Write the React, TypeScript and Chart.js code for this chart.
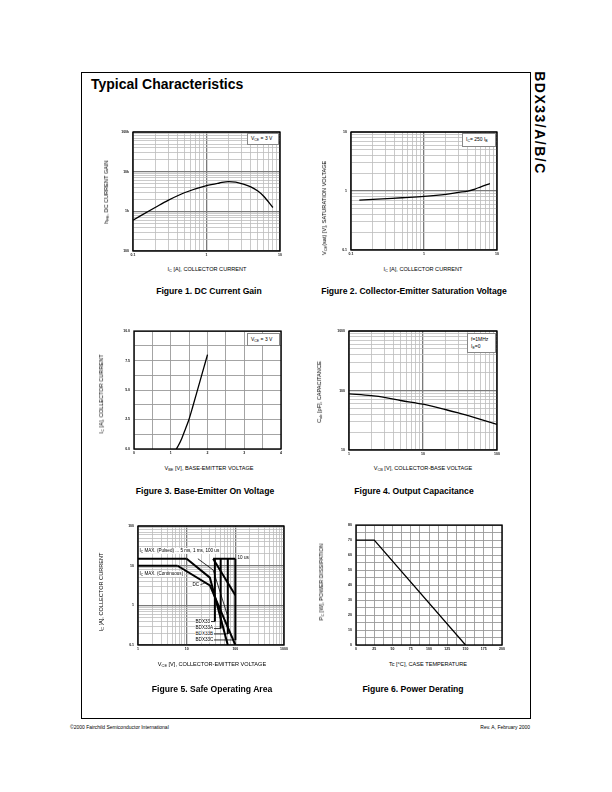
import React, { useEffect, useRef } from 'react';
import { Chart, registerables } from 'chart.js';
Chart.register(...registerables);

const FONT = '"Liberation Sans", Arial, Helvetica, sans-serif';

// ---------- Figure 1: DC current gain ----------
const fig1Ic = [0.1, 0.2, 0.3, 0.5, 1, 1.5, 2, 2.5, 3, 4, 5, 6, 8];
const fig1Hfe = [600, 1250, 1900, 2950, 4470, 5200, 5650, 5500, 5000, 4150, 3250, 2400, 1250];
const fig1XLabelVals = [0.1, 1, 10];
const fig1XLabels = ['0.1', '1', '10'];
const fig1YLabelVals = [100, 1000, 10000, 100000];
const fig1YLabels = ['100', '1k', '10k', '100k'];

// ---------- Figure 2: saturation voltage ----------
const fig2Ic = [0.13, 0.2, 0.5, 1, 2, 3, 4, 5, 6, 8];
const fig2Vce = [0.7, 0.72, 0.77, 0.81, 0.88, 0.95, 1.0, 1.08, 1.18, 1.34];
const fig2XLabelVals = [0.1, 1, 10];
const fig2XLabels = ['0.1', '1', '10'];
const fig2YLabelVals = [0.1, 1, 10];
const fig2YLabels = ['0.1', '1', '10'];

// ---------- Figure 3: base-emitter on voltage ----------
const fig3Vbe = [1.15, 1.2, 1.3, 1.4, 1.5, 1.6, 1.7, 1.8, 1.9, 2.0];
const fig3Ic = [0, 0.25, 0.9, 1.7, 2.55, 3.6, 4.7, 5.8, 6.9, 8.0];
const fig3XLabelVals = [0, 1, 2, 3, 4];
const fig3XLabels = ['0', '1', '2', '3', '4'];
const fig3YLabelVals = [0, 2.5, 5, 7.5, 10];
const fig3YLabels = ['0.0', '2.5', '5.0', '7.5', '10.0'];

// ---------- Figure 4: output capacitance ----------
const fig4Vcb = [1, 2, 3, 5, 10, 20, 30, 50, 100];
const fig4Cob = [88, 82, 77, 68, 59, 48, 42, 35, 27];
const fig4XLabelVals = [1, 10, 100];
const fig4XLabels = ['1', '10', '100'];
const fig4YLabelVals = [10, 100, 1000];
const fig4YLabels = ['10', '100', '1000'];

// ---------- Figure 5: safe operating area ----------
const soaPulsedV = [1, 10];
const soaPulsedI = [15, 15];
const soaContV = [1, 6.5];
const soaContI = [10, 10];
const soaDcV = [6.5, 30, 100];
const soaDcI = [10, 3.2, 0.1];
const soa5msV = [10, 30, 70];
const soa5msI = [15, 5, 0.1];
const soa1msV = [17, 35, 72];
const soa1msI = [15, 7.8, 0.47];
const soa100usV = [35, 100];
const soa100usI = [15, 1.8];
const soa10usV = [35, 100];
const soa10usI = [15, 15];
const soaPartNames = ['BDX33', 'BDX33A', 'BDX33B', 'BDX33C'];
const soaPartVmax = [38, 50, 70, 100];
const soaPartArrowI = [0.39, 0.26, 0.19, 0.134];
const soaArrowStartV = 30;
const soaDcPointerV = [19, 24];
const soaDcPointerI = [3.3, 3.7];
const fig5XLabelVals = [1, 10, 100, 1000];
const fig5XLabels = ['1', '10', '100', '1000'];
const fig5YLabelVals = [0.1, 1, 10, 100];
const fig5YLabels = ['0.1', '1', '10', '100'];

// ---------- Figure 6: power derating ----------
const fig6Tc = [0, 25, 150];
const fig6Pc = [70, 70, 0];
const fig6XLabelVals = [0, 25, 50, 75, 100, 125, 150, 175, 200];
const fig6XLabels = ['0', '25', '50', '75', '100', '125', '150', '175', '200'];
const fig6YLabelVals = [0, 10, 20, 30, 40, 50, 60, 70, 80];
const fig6YLabels = ['0', '10', '20', '30', '40', '50', '60', '70', '80'];

// ---------- helpers ----------
function logGrid(min: number, max: number): number[] {
  const out: number[] = [];
  const e0 = Math.round(Math.log10(min));
  const e1 = Math.round(Math.log10(max));
  for (let e = e0; e < e1; e++) {
    for (let k = 1; k < 10; k++) out.push(parseFloat((k * Math.pow(10, e)).toPrecision(3)));
  }
  out.push(max);
  return out;
}
function linGrid(min: number, max: number, step: number): number[] {
  const out: number[] = [];
  const n = Math.round((max - min) / step);
  for (let i = 0; i <= n; i++) out.push(parseFloat((min + i * step).toPrecision(6)));
  return out;
}
function same(a: number, b: number) {
  return Math.abs(a - b) <= 1e-6 * Math.max(1e-9, Math.abs(a), Math.abs(b));
}
function isDecade(v: number) {
  if (v === undefined || v <= 0) return false;
  const l = Math.log10(v);
  return Math.abs(l - Math.round(l)) < 1e-6;
}
function pts(xs: number[], ys: number[]) {
  return xs.map((x, i) => ({ x, y: ys[i] }));
}

type ScaleSpec = {
  type: 'logarithmic' | 'linear';
  min: number;
  max: number;
  grid: number[];
  labelVals: number[];
  labels: string[];
  log: boolean;
};

function makeScale(s: ScaleSpec, axis: 'x' | 'y', size: number) {
  return {
    type: s.type,
    min: s.min,
    max: s.max,
    position: axis === 'x' ? 'bottom' : 'left',
    afterBuildTicks: (sc: any) => {
      sc.ticks = s.grid.map((v) => ({ value: v }));
    },
    afterFit: (sc: any) => {
      if (axis === 'x') sc.height = size;
      else sc.width = size;
    },
    border: { display: false },
    grid: {
      drawTicks: false,
      color: (c: any) => (s.log ? (isDecade(c.tick && c.tick.value) ? '#7a7a7a' : '#bdbdbd') : '#9a9a9a'),
      lineWidth: (c: any) => (s.log ? (isDecade(c.tick && c.tick.value) ? 1.3 : 0.8) : 0.9),
    },
    ticks: {
      autoSkip: false,
      maxRotation: 0,
      minRotation: 0,
      padding: axis === 'x' ? 1.5 : 4,
      color: '#111',
      font: { family: FONT, size: 3.5, weight: 'bold' },
      callback: (v: any) => {
        const i = s.labelVals.findIndex((lv) => same(lv, Number(v)));
        return i >= 0 ? s.labels[i] : '';
      },
    },
  };
}

const framePlugin = {
  id: 'frame',
  afterDatasetsDraw(chart: any) {
    const { ctx, chartArea: a } = chart;
    ctx.save();
    ctx.strokeStyle = '#000';
    ctx.lineWidth = 1.4;
    ctx.strokeRect(a.left, a.top, a.right - a.left, a.bottom - a.top);
    ctx.restore();
  },
};

const PL = 36, PT = 6, PR = 10, PB = 12;

function Panel(props: { l: number; t: number; r: number; b: number; datasets: any[]; x: ScaleSpec; y: ScaleSpec }) {
  const { l, t, r, b, datasets, x, y } = props;
  const ref = useRef<HTMLCanvasElement>(null);
  const W = r - l + PL + PR;
  const H = b - t + PT + PB;
  useEffect(() => {
    const chart = new Chart(ref.current as HTMLCanvasElement, {
      type: 'line',
      data: { datasets },
      options: {
        responsive: false,
        animation: false,
        devicePixelRatio: 1,
        layout: { padding: { left: 0, top: PT, right: PR, bottom: 0 } },
        plugins: { legend: { display: false }, tooltip: { enabled: false } },
        elements: { point: { radius: 0 } },
        scales: { x: makeScale(x, 'x', PB), y: makeScale(y, 'y', PL) } as any,
      },
      plugins: [framePlugin],
    } as any);
    return () => chart.destroy();
  }, []);
  return (
    <canvas
      ref={ref}
      width={W}
      height={H}
      style={{ position: 'absolute', left: l - PL, top: t - PT, width: W, height: H }}
    />
  );
}

function curve(xs: number[], ys: number[], width = 1.3, smooth = true) {
  return {
    data: pts(xs, ys),
    borderColor: '#000',
    borderWidth: width,
    pointRadius: 0,
    fill: false,
    cubicInterpolationMode: smooth ? 'monotone' : 'default',
    tension: 0,
  };
}

const abs = (x: number, y: number, extra: any = {}): any => ({ position: 'absolute', left: x, top: y, ...extra });

function HText(props: { cx: number; cy: number; size: number; bold?: boolean; children: any }) {
  return (
    <div
      style={{
        position: 'absolute',
        left: props.cx,
        top: props.cy,
        transform: 'translate(-50%, -50%)',
        whiteSpace: 'nowrap',
        fontSize: props.size,
        lineHeight: 1,
        fontWeight: props.bold ? 'bold' : 'normal',
        fontFamily: FONT,
        color: '#000',
      }}
    >
      {props.children}
    </div>
  );
}
function VText(props: { cx: number; cy: number; size: number; children: any }) {
  return (
    <div
      style={{
        position: 'absolute',
        left: props.cx,
        top: props.cy,
        transform: 'translate(-50%, -50%) rotate(-90deg)',
        whiteSpace: 'nowrap',
        fontSize: props.size,
        lineHeight: 1,
        fontFamily: FONT,
        color: '#000',
      }}
    >
      {props.children}
    </div>
  );
}
const subStyle: any = { fontSize: '70%', verticalAlign: '-0.25em' };
const S = (t: string) => <span style={subStyle}>{t}</span>;

function LegendBox(props: { x: number; y: number; w: number; h: number; children: any }) {
  return (
    <div
      style={{
        position: 'absolute',
        left: props.x,
        top: props.y,
        width: props.w,
        height: props.h,
        background: '#fff',
        border: '0.6px solid #888',
        boxSizing: 'border-box',
        fontFamily: FONT,
        fontSize: 5,
        lineHeight: 1.4,
        display: 'flex',
        flexDirection: 'column',
        justifyContent: 'center',
        paddingLeft: 3,
        whiteSpace: 'nowrap',
      }}
    >
      {props.children}
    </div>
  );
}
function Label(props: { x: number; y: number; size?: number; children: any }) {
  return (
    <div
      style={{
        position: 'absolute',
        left: props.x,
        top: props.y,
        transform: 'translateY(-50%)',
        background: '#fff',
        fontFamily: FONT,
        fontSize: props.size || 4.6,
        lineHeight: 1.1,
        whiteSpace: 'nowrap',
        padding: '0 0.5px',
      }}
    >
      {props.children}
    </div>
  );
}

export default function App() {
  const TITLE = 5.6;
  const CAP = 8.6;

  const soaDatasets = [
    curve(soaPulsedV, soaPulsedI, 2, false),
    curve(soaContV, soaContI, 2, false),
    curve(soaDcV, soaDcI, 2, false),
    curve(soa5msV, soa5msI, 2, false),
    curve(soa1msV, soa1msI, 0.8, false),
    curve(soa100usV, soa100usI, 2, false),
    curve(soa10usV, soa10usI, 2, false),
    ...soaPartVmax.map((v, i) => curve([v, v], [15, soaPartArrowI[i]], 2, false)),
    ...soaPartVmax.map((v, i) => curve([soaArrowStartV, v], [soaPartArrowI[i], soaPartArrowI[i]], 0.8, false)),
    curve(soaDcPointerV, soaDcPointerI, 0.6, false),
  ];

  return (
    <div style={{ position: 'absolute', left: 0, top: 0, width: 612, height: 792, background: '#fff' }}>
      {/* page frame */}
      <div style={abs(81, 72, { width: 450, height: 647, border: '1px solid #000', boxSizing: 'border-box' })} />
      <div style={abs(91, 77, { fontFamily: FONT, fontWeight: 'bold', fontSize: 14, lineHeight: '14px', whiteSpace: 'nowrap' })}>
        Typical Characteristics
      </div>
      <div
        style={{
          position: 'absolute',
          left: 540,
          top: 123,
          transform: 'translate(-50%, -50%) rotate(90deg)',
          fontFamily: FONT,
          fontWeight: 'bold',
          fontSize: 14,
          lineHeight: 1,
          letterSpacing: 1.5,
          whiteSpace: 'nowrap',
        }}
      >
        BDX33/A/B/C
      </div>

      {/* Figure 1 */}
      <Panel
        l={133} t={132} r={280} b={251}
        datasets={[curve(fig1Ic, fig1Hfe)]}
        x={{ type: 'logarithmic', min: 0.1, max: 10, grid: logGrid(0.1, 10), labelVals: fig1XLabelVals, labels: fig1XLabels, log: true }}
        y={{ type: 'logarithmic', min: 100, max: 100000, grid: logGrid(100, 100000), labelVals: fig1YLabelVals, labels: fig1YLabels, log: true }}
      />
      <LegendBox x={247} y={133} w={32} h={12}>
        <div>V{S('CE')} = 3 V</div>
      </LegendBox>
      <VText cx={107} cy={192} size={TITLE}>h{S('FE')}, DC CURRENT GAIN</VText>
      <HText cx={207} cy={270} size={TITLE}>I{S('C')} [A], COLLECTOR CURRENT</HText>
      <HText cx={209} cy={291} size={CAP} bold>Figure 1. DC Current Gain</HText>

      {/* Figure 2 */}
      <Panel
        l={351} t={132} r={497} b={250}
        datasets={[curve(fig2Ic, fig2Vce)]}
        x={{ type: 'logarithmic', min: 0.1, max: 10, grid: logGrid(0.1, 10), labelVals: fig2XLabelVals, labels: fig2XLabels, log: true }}
        y={{ type: 'logarithmic', min: 0.1, max: 10, grid: logGrid(0.1, 10), labelVals: fig2YLabelVals, labels: fig2YLabels, log: true }}
      />
      <LegendBox x={462} y={133} w={34} h={14}>
        <div>I{S('C')}= 250 I{S('B')}</div>
      </LegendBox>
      <VText cx={325} cy={208} size={TITLE}>V{S('CE')}(sat) [V], SATURATION VOLTAGE</VText>
      <HText cx={423} cy={270} size={TITLE}>I{S('C')} [A], COLLECTOR CURRENT</HText>
      <HText cx={414} cy={291} size={CAP} bold>Figure 2. Collector-Emitter Saturation Voltage</HText>

      {/* Figure 3 */}
      <Panel
        l={134} t={331} r={281} b={449}
        datasets={[curve(fig3Vbe, fig3Ic)]}
        x={{ type: 'linear', min: 0, max: 4, grid: linGrid(0, 4, 0.5), labelVals: fig3XLabelVals, labels: fig3XLabels, log: false }}
        y={{ type: 'linear', min: 0, max: 10, grid: linGrid(0, 10, 1.25), labelVals: fig3YLabelVals, labels: fig3YLabels, log: false }}
      />
      <LegendBox x={247} y={333} w={33} h={13}>
        <div>V{S('CE')} = 3 V</div>
      </LegendBox>
      <VText cx={102} cy={394} size={TITLE}>I{S('C')} [A], COLLECTOR CURRENT</VText>
      <HText cx={209} cy={469} size={TITLE}>V{S('BE')} [V], BASE-EMITTER VOLTAGE</HText>
      <HText cx={205} cy={491} size={CAP} bold>Figure 3. Base-Emitter On Voltage</HText>

      {/* Figure 4 */}
      <Panel
        l={349} t={331} r={497} b={450}
        datasets={[curve(fig4Vcb, fig4Cob)]}
        x={{ type: 'logarithmic', min: 1, max: 100, grid: logGrid(1, 100), labelVals: fig4XLabelVals, labels: fig4XLabels, log: true }}
        y={{ type: 'logarithmic', min: 10, max: 1000, grid: logGrid(10, 1000), labelVals: fig4YLabelVals, labels: fig4YLabels, log: true }}
      />
      <LegendBox x={467} y={333} w={29} h={20}>
        <div>f=1MHz</div>
        <div>I{S('E')}=0</div>
      </LegendBox>
      <VText cx={320} cy={392} size={TITLE}>C{S('ob')} [pF], CAPACITANCE</VText>
      <HText cx={423} cy={469} size={TITLE}>V{S('CB')} [V], COLLECTOR-BASE VOLTAGE</HText>
      <HText cx={414} cy={491} size={CAP} bold>Figure 4. Output Capacitance</HText>

      {/* Figure 5 */}
      <Panel
        l={138} t={526} r={284} b={645}
        datasets={soaDatasets}
        x={{ type: 'logarithmic', min: 1, max: 1000, grid: logGrid(1, 1000), labelVals: fig5XLabelVals, labels: fig5XLabels, log: true }}
        y={{ type: 'logarithmic', min: 0.1, max: 100, grid: logGrid(0.1, 100), labelVals: fig5YLabelVals, labels: fig5YLabels, log: true }}
      />
      <Label x={139} y={551}>I{S('C')} MAX. (Pulsed) ... 5 ms, 1 ms, 100 us</Label>
      <Label x={237} y={558}>10 us</Label>
      <Label x={139} y={574}>I{S('C')} MAX. (Continuous)</Label>
      <Label x={192} y={585}>DC</Label>
      {soaPartNames.map((n, i) => (
        <Label key={n} x={195} y={[622, 628, 634, 640][i]}>{n}</Label>
      ))}
      <VText cx={102} cy={592} size={TITLE}>I{S('C')} [A], COLLECTOR CURRENT</VText>
      <HText cx={212} cy={665} size={TITLE}>V{S('CE')} [V], COLLECTOR-EMITTER VOLTAGE</HText>
      <HText cx={212} cy={689} size={CAP} bold>Figure 5. Safe Operating Area</HText>

      {/* Figure 6 */}
      <Panel
        l={356} t={525} r={502} b={645}
        datasets={[curve(fig6Tc, fig6Pc, 1.3, false)]}
        x={{ type: 'linear', min: 0, max: 200, grid: linGrid(0, 200, 12.5), labelVals: fig6XLabelVals, labels: fig6XLabels, log: false }}
        y={{ type: 'linear', min: 0, max: 80, grid: linGrid(0, 80, 5), labelVals: fig6YLabelVals, labels: fig6YLabels, log: false }}
      />
      <VText cx={322} cy={582} size={TITLE}>P{S('C')} [W], POWER DISSIPATION</VText>
      <HText cx={428} cy={665} size={TITLE}>Tc [°C], CASE TEMPERATURE</HText>
      <HText cx={413} cy={689} size={CAP} bold>Figure 6. Power Derating</HText>

      {/* footer */}
      <div style={abs(70, 725, { fontFamily: FONT, fontSize: 5, lineHeight: 1, whiteSpace: 'nowrap' })}>
        ©2000 Fairchild Semiconductor International
      </div>
      <div style={abs(430, 725, { width: 100, textAlign: 'right', fontFamily: FONT, fontSize: 5, lineHeight: 1, whiteSpace: 'nowrap' })}>
        Rev. A, February 2000
      </div>
    </div>
  );
}
